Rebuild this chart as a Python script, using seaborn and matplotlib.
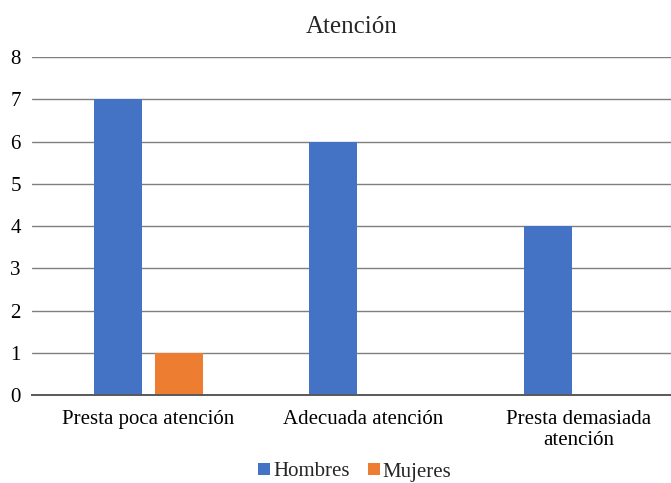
import matplotlib
matplotlib.use("Agg")
import matplotlib.pyplot as plt
import seaborn as sns
import pandas as pd
from matplotlib.patches import Patch

categories = ["Presta poca atención", "Adecuada atención", "Presta demasiada\natención"]
hombres = [7, 6, 4]
mujeres = [1, 0, 0]
series_names = ["Hombres", "Mujeres"]
colors = ["#4472C4", "#ED7D31"]
y_ticks = [0, 1, 2, 3, 4, 5, 6, 7, 8]

df = pd.DataFrame({
    "categoria": categories * 2,
    "valor": hombres + mujeres,
    "serie": [series_names[0]] * 3 + [series_names[1]] * 3,
})

sns.set_theme(style="white")
plt.rcParams["font.family"] = ["Liberation Serif", "DejaVu Serif"]

fig = plt.figure(figsize=(6.71, 4.83), dpi=100)
ax = fig.add_axes([32 / 671, 88 / 483, 639 / 671, 338 / 483])

sns.barplot(data=df, x="categoria", y="valor", hue="serie", order=categories,
            hue_order=series_names, palette=colors, width=0.567, gap=0.214,
            saturation=1, linewidth=0, ax=ax, legend=False, zorder=3)

ax.set_xlim(-0.542, 2.430)
ax.set_ylim(0, 8)
ax.set_yticks(y_ticks)
ax.yaxis.grid(True, color="#7f7f7f", linewidth=1.0, zorder=0)
ax.set_axisbelow(True)
for s in ["top", "right", "left"]:
    ax.spines[s].set_visible(False)
ax.spines["bottom"].set_color("#595959")
ax.spines["bottom"].set_linewidth(1.4)
ax.spines["bottom"].set_zorder(4)
ax.tick_params(axis="both", length=0, labelsize=15, colors="#000000")
ax.tick_params(axis="y", pad=8)
ax.tick_params(axis="x", pad=11)
for lbl in ax.get_xticklabels():
    lbl.set_linespacing(1.15)
ax.set_xlabel("")
ax.set_ylabel("")

fig.text(352 / 671, 1 - 27 / 483, "Atención", ha="center", va="center", fontsize=18)

handles = [Patch(facecolor=c, edgecolor="none") for c in colors]
fig.legend(handles, series_names, loc="center", bbox_to_anchor=(355 / 671, 1 - 472 / 483),
           ncol=2, frameon=False, fontsize=15, handlelength=0.55, handleheight=0.55,
           handletextpad=0.15, columnspacing=0.9, borderpad=0.1)

fig.savefig("out.png", dpi=100)
